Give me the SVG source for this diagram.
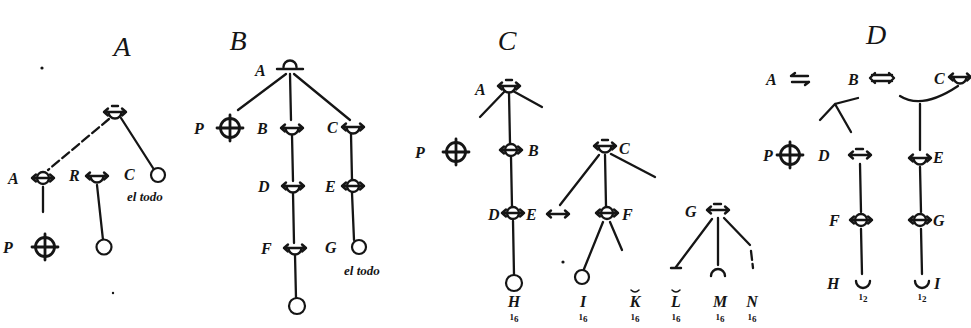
<svg xmlns="http://www.w3.org/2000/svg" xmlns:xlink="http://www.w3.org/1999/xlink" width="971" height="328" viewBox="0 0 971 328">
<style>
.ln{stroke:#151515;stroke-width:2.3;fill:none;stroke-linecap:round}
.dash{stroke-dasharray:9 4}
.sym{stroke:#151515;stroke-width:2.4;fill:none;stroke-linecap:round}
.nd{stroke:#151515;stroke-width:2.2;fill:#fff}
.lbl{font-family:"Liberation Serif",serif;font-style:italic;font-weight:bold;font-size:16px;fill:#151515}
.ttl{font-family:"Liberation Serif",serif;font-style:italic;font-size:28px;fill:#151515;text-anchor:middle}
.note{font-family:"Liberation Serif",serif;font-style:italic;font-weight:bold;font-size:13px;fill:#151515}
.sub{font-family:"Liberation Serif",serif;font-weight:bold;font-size:9px;fill:#151515;text-anchor:middle}
.dot{fill:#151515}
</style>
<defs>
<path id="arr" d="M-11,0H11M-11,0l4,-3.5M-11,0l4,3.5M11,0l-4,-3.5M11,0l-4,3.5"/>
<g id="sFull" class="sym"><circle r="6"/><use xlink:href="#arr"/></g>
<g id="sCup" class="sym"><path d="M-6.5,0A6.5,6.5 0 0 0 6.5,0"/><use xlink:href="#arr"/></g>
<g id="sCupD" class="sym"><path d="M-3,-6H3M-6.5,0A6.5,6.5 0 0 0 6.5,0"/><use xlink:href="#arr"/></g>
<g id="sCap" class="sym"><path d="M-6.5,-1A6.5,6.5 0 0 1 6.5,-1M-13,1H13"/></g>
<g id="sArr" class="sym"><path d="M-4,-6H3"/><use xlink:href="#arr"/></g>
<g id="oplus" class="sym" style="stroke-width:2.8"><circle r="9.5"/><path d="M-13,0H13M0,-13V13"/></g>
</defs>

<g id="titles">
<text class="ttl" x="122" y="56">A</text>
<text class="ttl" x="238" y="50">B</text>
<text class="ttl" x="507" y="50">C</text>
<text class="ttl" x="876" y="44">D</text>
</g>

<g id="connectors">
<!-- A -->
<path class="ln dash" d="M109,119L48,170"/>
<path class="ln" d="M121,118L153,168"/>
<path class="ln" d="M43,187V212"/>
<path class="ln" d="M97,185L103,240"/>
<!-- B -->
<path class="ln" d="M286,74L238,110"/>
<path class="ln" d="M290,74L291,120"/>
<path class="ln" d="M294,74L350,120"/>
<path class="ln" d="M292,135L293,181"/>
<path class="ln" d="M351,134L352,180"/>
<path class="ln" d="M293,193L294,243"/>
<path class="ln" d="M352,193L354,240"/>
<path class="ln" d="M295,255L296,298"/>
<!-- C -->
<path class="ln" d="M509,93L510,143"/>
<path class="ln" d="M505,91L480,117"/>
<path class="ln" d="M513,91L542,107"/>
<path class="ln" d="M511,157L512,207"/>
<path class="ln" d="M513,221L514,275"/>
<path class="ln" d="M599,155L560,205"/>
<path class="ln" d="M605,155L606,206"/>
<path class="ln" d="M611,154L655,177"/>
<path class="ln" d="M603,222L584,269"/>
<path class="ln" d="M610,222L622,250"/>
<path class="ln" d="M712,219L676,267"/>
<path class="ln" d="M718,218V265"/>
<path class="ln" d="M724,218L750,245"/>
<path class="ln dash" d="M751,251L753,268"/>
<!-- D -->
<path class="ln" d="M820,120L835,104L858,98M835,104L851,132"/>
<path class="ln" d="M900,96Q922,110 958,86"/>
<path class="ln" d="M920,104V150"/>
<path class="ln" d="M860,164L861,212"/>
<path class="ln" d="M920,167L921,212"/>
<path class="ln" d="M861,229L862,274"/>
<path class="ln" d="M921,229L922,274"/>
</g>

<!-- Panel A nodes -->
<g id="a-root"><use xlink:href="#sCupD" x="115" y="112"/></g>
<g id="a-A"><text class="lbl" x="8" y="184">A</text><use xlink:href="#sFull" x="43" y="178"/></g>
<g id="a-P"><text class="lbl" x="3" y="253">P</text><use xlink:href="#oplus" x="45" y="247"/></g>
<g id="a-R"><text class="lbl" x="69" y="181">R</text><use xlink:href="#sCup" x="97" y="176"/></g>
<g id="a-C"><text class="lbl" x="124" y="180">C</text><circle class="nd" cx="158" cy="175" r="7"/><text class="note" x="127" y="201">el todo</text></g>
<g id="a-leaf"><circle class="nd" cx="104" cy="247" r="7.5"/></g>
<circle class="dot" cx="42" cy="68" r="1.6"/>
<circle class="dot" cx="113" cy="293" r="1.2"/>

<!-- Panel B nodes -->
<g id="b-A"><text class="lbl" x="255" y="76">A</text><use xlink:href="#sCap" x="290" y="68"/></g>
<g id="b-P"><text class="lbl" x="194" y="134">P</text><use xlink:href="#oplus" x="230" y="128"/></g>
<g id="b-B"><text class="lbl" x="257" y="134">B</text><use xlink:href="#sCup" x="292" y="128"/></g>
<g id="b-C"><text class="lbl" x="327" y="133">C</text><use xlink:href="#sCup" x="353" y="127"/></g>
<g id="b-D"><text class="lbl" x="258" y="192">D</text><use xlink:href="#sCup" x="293" y="186"/></g>
<g id="b-E"><text class="lbl" x="325" y="192">E</text><use xlink:href="#sFull" x="353" y="186"/></g>
<g id="b-F"><text class="lbl" x="261" y="254">F</text><use xlink:href="#sCup" x="295" y="248"/></g>
<g id="b-G"><text class="lbl" x="325" y="253">G</text><circle class="nd" cx="359" cy="247" r="7"/><text class="note" x="344" y="275">el todo</text></g>
<g id="b-leaf"><circle class="nd" cx="297" cy="306" r="8"/></g>

<!-- Panel C nodes -->
<g id="c-A"><text class="lbl" x="475" y="95">A</text><use xlink:href="#sCupD" x="509" y="86"/></g>
<g id="c-P"><text class="lbl" x="415" y="158">P</text><use xlink:href="#oplus" x="456" y="152"/></g>
<g id="c-B"><use xlink:href="#sFull" x="511" y="150"/><text class="lbl" x="528" y="156">B</text></g>
<g id="c-D"><text class="lbl" x="488" y="220">D</text><use xlink:href="#sFull" x="513" y="213"/></g>
<g id="c-E"><text class="lbl" x="526" y="220">E</text><use xlink:href="#arr" class="sym" x="558" y="214"/></g>
<g id="c-H"><circle class="nd" cx="514" cy="283" r="8"/><text class="lbl" x="514" y="307" text-anchor="middle">H</text><text class="sub" x="514" y="320">1<tspan dy="2">6</tspan></text></g>
<g id="c-C"><use xlink:href="#sCupD" x="605" y="146"/><text class="lbl" x="619" y="154">C</text></g>
<g id="c-F"><use xlink:href="#sFull" x="607" y="213"/><text class="lbl" x="622" y="220">F</text></g>
<g id="c-I"><circle class="nd" cx="582" cy="277" r="7"/><text class="lbl" x="583" y="307" text-anchor="middle">I</text><text class="sub" x="583" y="320">1<tspan dy="2">6</tspan></text></g>
<circle class="dot" cx="563" cy="262" r="1.6"/>
<g id="c-K"><text class="lbl" x="635" y="307" text-anchor="middle">K</text><path class="sym" style="stroke-width:1.5" d="M631,290Q635,294 639,290"/><text class="sub" x="635" y="320">1<tspan dy="2">6</tspan></text></g>
<g id="c-G"><text class="lbl" x="685" y="217">G</text><use xlink:href="#sArr" x="718" y="210"/></g>
<g id="c-L"><path class="sym" d="M671,268H681"/><text class="lbl" x="676" y="307" text-anchor="middle">L</text><path class="sym" style="stroke-width:1.5" d="M672,290Q676,294 680,290"/><text class="sub" x="676" y="320">1<tspan dy="2">6</tspan></text></g>
<g id="c-M"><path class="sym" d="M711,276A7,7 0 0 1 725,276"/><text class="lbl" x="720" y="307" text-anchor="middle">M</text><text class="sub" x="720" y="320">1<tspan dy="2">6</tspan></text></g>
<g id="c-N"><text class="lbl" x="752" y="307" text-anchor="middle">N</text><text class="sub" x="752" y="320">1<tspan dy="2">6</tspan></text></g>

<!-- Panel D nodes -->
<g id="d-A"><text class="lbl" x="766" y="85">A</text><path class="sym" d="M791,76H808M791,76l4,-3M792,82H809M809,82l-4,3"/></g>
<g id="d-B"><text class="lbl" x="848" y="85">B</text><path class="sym" d="M872,75H892M872,81H892M870,78l5,-5M870,78l5,5M894,78l-5,-5M894,78l-5,5"/></g>
<g id="d-C"><text class="lbl" x="934" y="84">C</text><use xlink:href="#sCup" x="960" y="77"/></g>
<g id="d-P"><text class="lbl" x="763" y="161">P</text><use xlink:href="#oplus" x="790" y="155"/></g>
<g id="d-D"><text class="lbl" x="818" y="161">D</text><use xlink:href="#sArr" x="860" y="155"/></g>
<g id="d-E"><use xlink:href="#sCup" x="920" y="158"/><text class="lbl" x="933" y="163">E</text></g>
<g id="d-F"><text class="lbl" x="829" y="226">F</text><use xlink:href="#sFull" x="861" y="220"/></g>
<g id="d-G"><use xlink:href="#sFull" x="920" y="220"/><text class="lbl" x="933" y="226">G</text></g>
<g id="d-H"><text class="lbl" x="827" y="289">H</text><path class="sym" d="M856,281A7,7 0 0 0 870,281"/><text class="sub" x="863" y="300">1<tspan dy="2">2</tspan></text></g>
<g id="d-I"><path class="sym" d="M915,281A7,7 0 0 0 929,281"/><text class="lbl" x="934" y="289">I</text><text class="sub" x="922" y="300">1<tspan dy="2">2</tspan></text></g>
</svg>
